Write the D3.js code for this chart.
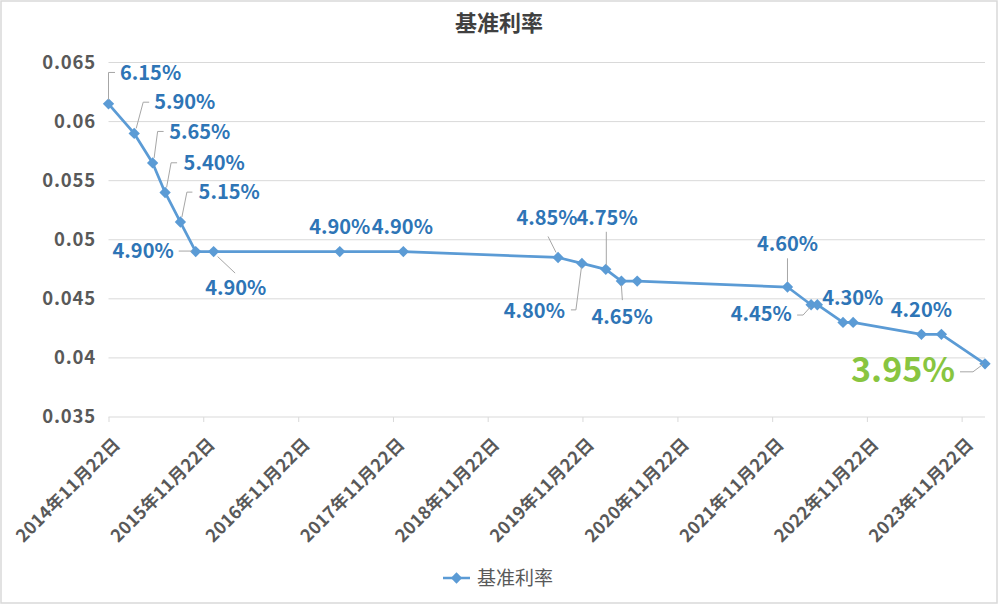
<!DOCTYPE html>
<html>
<head>
<meta charset="utf-8">
<script src="https://cdn.jsdelivr.net/npm/d3@7"></script>
<style>
  html, body { margin: 0; padding: 0; background: #fff; }
  svg { display: block; }
  text { font-family: "Noto Sans CJK SC", "Noto Sans", sans-serif; }
</style>
</head>
<body>
<svg id="chart" width="1000" height="606"></svg>
<script>
// ---- data ----
const chartTitle = "基准利率";
const seriesName = "基准利率";
const dates = ["2014-11-22","2015-03-01","2015-05-11","2015-06-28","2015-08-26","2015-10-24",
  "2016-01-01","2017-05-01","2018-01-01","2019-08-20","2019-11-20","2020-02-20","2020-04-20",
  "2020-06-20","2022-01-20","2022-04-21","2022-05-15","2022-08-22","2022-09-30","2023-06-20",
  "2023-09-05","2024-02-20"];
const rates = [0.0615,0.059,0.0565,0.054,0.0515,0.049,0.049,0.049,0.049,0.0485,0.048,0.0475,
  0.0465,0.0465,0.046,0.0445,0.0445,0.043,0.043,0.042,0.042,0.0395];
const yTicks = [0.035,0.04,0.045,0.05,0.055,0.06,0.065];
const xTickDates = ["2014-11-22","2015-11-22","2016-11-22","2017-11-22","2018-11-22",
  "2019-11-22","2020-11-22","2021-11-22","2022-11-22","2023-11-22"];

// ---- label layout (offsets from the point, in px) ----
const labelLayout = [
  {i:0,  dx:11.5, dy:-31.4, anchor:"start",  leader:[[0,-4],[0,-31.4],[6.5,-31.4]]},
  {i:1,  dx:20,   dy:-31.2, anchor:"start",  leader:[[2,-5],[9,-31.2],[15,-31.2]]},
  {i:2,  dx:16.6, dy:-31.5, anchor:"start",  leader:[[1.5,-5],[5,-31.5],[11,-31.5]]},
  {i:3,  dx:18.5, dy:-29.7, anchor:"start",  leader:[[1.5,-5],[6,-29.7],[12,-29.7]]},
  {i:4,  dx:18.2, dy:-29.9, anchor:"start",  leader:[[1.5,-5],[6.5,-29.9],[12,-29.9]]},
  {i:5,  dx:-22,  dy:-1,    anchor:"end",    leader:[[-4,-0.5],[-17,-0.5]]},
  {i:6,  dx:-8.4, dy:36,    anchor:"start",  leader:[[4,5],[21.5,21.5]]},
  {i:7,  dx:0,    dy:-25,   anchor:"middle", leader:null},
  {i:8,  dx:-1,   dy:-25,   anchor:"middle", leader:null},
  {i:9,  dx:-11,  dy:-39.5, anchor:"middle", leader:[[-2,-5],[-10,-21]]},
  {i:10, dx:-17,  dy:47.6,  anchor:"end",    leader:[[-11,46.5],[-6,46.5],[-0.5,4]]},
  {i:11, dx:1.3,  dy:-51.3, anchor:"middle", leader:[[0.5,-4],[0.5,-37.5]]},
  {i:12, dx:0.7,  dy:35.4,  anchor:"middle", leader:[[0,4],[1,19]]},
  {i:14, dx:0,    dy:-43.3, anchor:"middle", leader:[[0,-5],[0,-28.7]]},
  {i:15, dx:-19.3,dy:9.3,   anchor:"end",    leader:[[-14,10.3],[-8,10.3],[-1,2.5]]},
  {i:17, dx:9.7,  dy:-24.2, anchor:"middle", leader:null},
  {i:19, dx:0,    dy:-24.6, anchor:"middle", leader:null},
  {i:21, dx:-30,  dy:5.7,   anchor:"end",    leader:[[-25,8],[-12,8],[-2,0.5]], big:true}
];

// ---- drawing ----
const parse = d3.timeParse("%Y-%m-%d");
const data = dates.map((d, k) => ({date: parse(d), value: rates[k]}));
const svg = d3.select("#chart");

const lineColor = "#5b9bd5", labelColor = "#2e75b6", gridColor = "#d9d9d9", axisText = "#595959";

// outer border
svg.append("rect").attr("x", 1).attr("y", 1).attr("width", 996).attr("height", 602)
  .attr("fill", "#fff").attr("stroke", "#d9d9d9").attr("stroke-width", 1.5);

const x = d3.scaleTime()
  .domain([parse(dates[0]), parse(dates[dates.length - 1])])
  .range([108.5, 985]);
const y = d3.scaleLinear().domain([0.035, 0.065]).range([417, 62.5]);

// title
svg.append("text").attr("x", 499).attr("y", 23).attr("dy", "0.35em")
  .attr("text-anchor", "middle").attr("font-size", 22).attr("font-weight", "bold")
  .attr("fill", "#404040").text(chartTitle);

// grid
svg.append("g").selectAll("line").data(yTicks.slice(1)).join("line")
  .attr("x1", x.range()[0]).attr("x2", x.range()[1])
  .attr("y1", d => y(d)).attr("y2", d => y(d))
  .attr("stroke", gridColor).attr("stroke-width", 1);

// y axis
const yAxis = d3.axisLeft(y).tickValues(yTicks).tickSize(0).tickPadding(0).tickFormat(d3.format(""));
const gy = svg.append("g").attr("transform", "translate(96,0)").call(yAxis);
gy.select(".domain").remove();
gy.selectAll("text").attr("font-size", 18.5).attr("font-weight", "bold").attr("fill", axisText)
  .attr("letter-spacing", "0.8px")
  .attr("font-family", '"Noto Sans CJK SC", sans-serif');

// x axis
const xAxis = d3.axisBottom(x).tickValues(xTickDates.map(parse)).tickSize(5)
  .tickFormat(d3.timeFormat("%Y年%m月%d日"));
const gx = svg.append("g").attr("transform", "translate(0,417)").call(xAxis);
gx.select(".domain").attr("stroke", gridColor).attr("d", `M${x.range()[0]},0H${x.range()[1]}`);
gx.selectAll(".tick line").attr("stroke", gridColor);
gx.selectAll(".tick text")
  .attr("font-size", 17.5).attr("font-weight", "bold").attr("fill", axisText)
  .attr("letter-spacing", "0.3px")
  .attr("font-family", '"Noto Sans CJK SC", sans-serif')
  .attr("text-anchor", "end").attr("y", 0).attr("dy", "0.35em")
  .attr("transform", "translate(8,24) rotate(-45)");

// line
const line = d3.line().x(d => x(d.date)).y(d => y(d.value));
svg.append("path").datum(data).attr("d", line)
  .attr("fill", "none").attr("stroke", lineColor).attr("stroke-width", 2.75)
  .attr("stroke-linejoin", "round");

// markers
const diamond = d3.symbol(d3.symbolSquare, 64);
svg.append("g").selectAll("path").data(data).join("path")
  .attr("d", diamond)
  .attr("transform", d => `translate(${x(d.date)},${y(d.value)}) rotate(45)`)
  .attr("fill", lineColor);

// leaders & labels
const pct = d3.format(".2%");
const gl = svg.append("g");
labelLayout.forEach(L => {
  const d = data[L.i];
  const px = x(d.date), py = y(d.value);
  if (L.leader) {
    gl.append("polyline")
      .attr("points", L.leader.map(p => `${px + p[0]},${py + p[1]}`).join(" "))
      .attr("fill", "none").attr("stroke", "#a6a6a6").attr("stroke-width", 1);
  }
  gl.append("text").attr("x", px + L.dx).attr("y", py + L.dy).attr("dy", "0.36em")
    .attr("text-anchor", L.anchor)
    .attr("font-size", L.big ? 34 : 20).attr("font-weight", "bold")
    .attr("fill", L.big ? "#88c540" : labelColor)
    .text(pct(d.value));
});

// legend
const lg = svg.append("g");
lg.append("line").attr("x1", 443).attr("x2", 470).attr("y1", 578).attr("y2", 578)
  .attr("stroke", lineColor).attr("stroke-width", 2.5);
lg.append("path").attr("d", diamond).attr("transform", "translate(456.5,578) rotate(45)")
  .attr("fill", lineColor);
lg.append("text").attr("x", 477).attr("y", 578).attr("dy", "0.36em")
  .attr("font-size", 19).attr("fill", axisText).text(seriesName);
</script>
</body>
</html>
